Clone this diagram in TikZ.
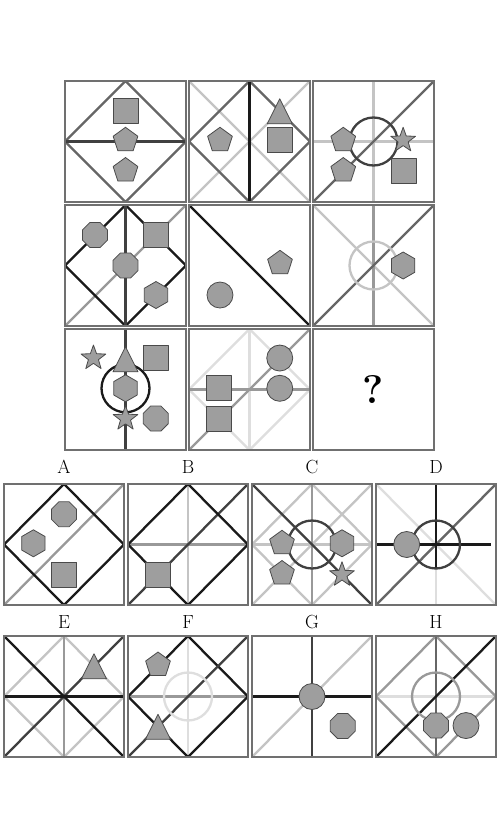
\documentclass[tikz,border=0pt]{standalone}
\usepackage{tikz}
\definecolor{cA}{HTML}{DEDEDE}
\definecolor{cB}{HTML}{C4C4C4}
\definecolor{cC}{HTML}{999999}
\definecolor{cD}{HTML}{666666}
\definecolor{cE}{HTML}{404040}
\definecolor{cF}{HTML}{1A1A1A}
\definecolor{shpfill}{HTML}{9E9E9E}
\definecolor{shpline}{HTML}{4A4A4A}
\definecolor{framec}{HTML}{707070}
\tikzset{
  ln/.style={line width=2.3pt},
  lA/.style={ln,draw=cA}, lB/.style={ln,draw=cB}, lC/.style={ln,draw=cC},
  lD/.style={ln,draw=cD}, lE/.style={ln,draw=cE}, lF/.style={ln,draw=cF},
  frame/.style={draw=framec,line width=1.1pt},
  shp/.style={fill=shpfill,draw=shpline,line width=0.8pt,line join=round},
  lbl/.style={font=\fontsize{19}{19}\selectfont,inner sep=0pt},
  psq/.pic={\draw[shp] (-12.5pt,-12.5pt) rectangle (12.5pt,12.5pt);},
  ppent/.pic={\draw[shp] (90:13pt)--(162:13pt)--(234:13pt)--(306:13pt)--(18:13pt)--cycle;},
  phex/.pic={\draw[shp] (90:13.5pt)--(150:13.5pt)--(210:13.5pt)--(270:13.5pt)--(330:13.5pt)--(30:13.5pt)--cycle;},
  poct/.pic={\draw[shp] (22.5:13.5pt)--(67.5:13.5pt)--(112.5:13.5pt)--(157.5:13.5pt)--(202.5:13.5pt)--(247.5:13.5pt)--(292.5:13.5pt)--(337.5:13.5pt)--cycle;},
  ptri/.pic={\draw[shp] (0pt,12.5pt)--(-12.5pt,-12.5pt)--(12.5pt,-12.5pt)--cycle;},
  pstar/.pic={\draw[shp] (90:13pt)--(126:5.3pt)--(162:13pt)--(198:5.3pt)--(234:13pt)--(270:5.3pt)--(306:13pt)--(342:5.3pt)--(18:13pt)--(54:5.3pt)--cycle;},
  pcirc/.pic={\draw[shp] (0,0) circle[radius=13pt];},
}
\newcommand\mydiam[1]{\draw[#1] (0.5,0)--(1,0.5)--(0.5,1)--(0,0.5)--cycle;}
\newcommand\myvert[1]{\draw[#1] (0.5,0)--(0.5,1);}
\newcommand\myhorz[1]{\draw[#1] (0,0.5)--(1,0.5);}
\newcommand\mydup[1]{\draw[#1] (0,1)--(1,0);}
\newcommand\myddown[1]{\draw[#1] (0,0)--(1,1);}
\newcommand\mybigc[1]{\draw[#1] (0.5,0.5) circle[radius=24pt];}
\begin{document}
\begin{tikzpicture}[x=1pt,y=-1pt]
\useasboundingbox[fill=white] (0,0) rectangle (500,836);

% ---------- Row 1 ----------
\begin{scope}[shift={(65,81)},x=121pt,y=-121pt]
  \begin{scope}\clip (0,0) rectangle (1,1);
    \mydiam{lD} \myhorz{lE}
  \end{scope}
  \draw[frame] (0,0) rectangle (1,1);
  \pic at (0.5,0.25) {psq};
  \pic at (0.5,0.49) {ppent};
  \pic at (0.5,0.74) {ppent};
\end{scope}

\begin{scope}[shift={(189,81)},x=121pt,y=-121pt]
  \begin{scope}\clip (0,0) rectangle (1,1);
    \myddown{lB} \mydup{lB} \mydiam{lD} \myvert{lF}
  \end{scope}
  \draw[frame] (0,0) rectangle (1,1);
  \pic at (0.256,0.49) {ppent};
  \pic at (0.75,0.25) {ptri};
  \pic at (0.75,0.49) {psq};
\end{scope}

\begin{scope}[shift={(313,81)},x=121pt,y=-121pt]
  \begin{scope}\clip (0,0) rectangle (1,1);
    \myvert{lB} \myhorz{lB} \mydup{lD}
  \end{scope}
  \mybigc{lE}
  \draw[frame] (0,0) rectangle (1,1);
  \pic at (0.25,0.49) {ppent};
  \pic at (0.25,0.74) {ppent};
  \pic at (0.745,0.49) {pstar};
  \pic at (0.75,0.745) {psq};
\end{scope}

% ---------- Row 2 ----------
\begin{scope}[shift={(65,205)},x=121pt,y=-121pt]
  \begin{scope}\clip (0,0) rectangle (1,1);
    \mydup{lC} \mydiam{lF} \myvert{lE}
  \end{scope}
  \draw[frame] (0,0) rectangle (1,1);
  \pic at (0.248,0.248) {poct};
  \pic at (0.75,0.248) {psq};
  \pic at (0.5,0.5) {poct};
  \pic at (0.752,0.744) {phex};
\end{scope}

\begin{scope}[shift={(189,205)},x=121pt,y=-121pt]
  \begin{scope}\clip (0,0) rectangle (1,1);
    \myddown{lF}
  \end{scope}
  \draw[frame] (0,0) rectangle (1,1);
  \pic at (0.752,0.482) {ppent};
  \pic at (0.256,0.744) {pcirc};
\end{scope}

\begin{scope}[shift={(313,205)},x=121pt,y=-121pt]
  \begin{scope}\clip (0,0) rectangle (1,1);
    \myddown{lB} \myvert{lC} \mydup{lD}
  \end{scope}
  \mybigc{lB}
  \draw[frame] (0,0) rectangle (1,1);
  \pic at (0.745,0.5) {phex};
\end{scope}

% ---------- Row 3 ----------
\begin{scope}[shift={(65,329)},x=121pt,y=-121pt]
  \begin{scope}\clip (0,0) rectangle (1,1);
    \myvert{lE}
  \end{scope}
  \draw[lF] (0.5,0.49) circle[radius=24pt];
  \draw[frame] (0,0) rectangle (1,1);
  \pic at (0.235,0.24) {pstar};
  \pic at (0.5,0.25) {ptri};
  \pic at (0.75,0.24) {psq};
  \pic at (0.5,0.49) {phex};
  \pic at (0.5,0.74) {pstar};
  \pic at (0.75,0.74) {poct};
\end{scope}

\begin{scope}[shift={(189,329)},x=121pt,y=-121pt]
  \begin{scope}\clip (0,0) rectangle (1,1);
    \mydiam{lA} \myvert{lA} \myhorz{lC} \mydup{lC}
  \end{scope}
  \draw[frame] (0,0) rectangle (1,1);
  \pic at (0.75,0.24) {pcirc};
  \pic at (0.75,0.49) {pcirc};
  \pic at (0.25,0.49) {psq};
  \pic at (0.25,0.74) {psq};
\end{scope}

\begin{scope}[shift={(313,329)},x=121pt,y=-121pt]
  \draw[frame] (0,0) rectangle (1,1);
  \node[font=\fontsize{40}{40}\selectfont\bfseries,inner sep=0pt] (qm) at (0.5,0.5) {?};
\end{scope}

% ---------- Labels ----------
\node[lbl] (labA) at (64,467) {A};
\node[lbl] (labB) at (188,467) {B};
\node[lbl] (labC) at (312,467) {C};
\node[lbl] (labD) at (436,467) {D};
\node[lbl] (labE) at (64,622) {E};
\node[lbl] (labF) at (188,622) {F};
\node[lbl] (labG) at (312,622) {G};
\node[lbl] (labH) at (436,622) {H};

% ---------- Options row 1 ----------
\begin{scope}[shift={(4,484)},x=120pt,y=-121pt]
  \begin{scope}\clip (0,0) rectangle (1,1);
    \mydup{lC} \mydiam{lF}
  \end{scope}
  \draw[frame] (0,0) rectangle (1,1);
  \pic at (0.5,0.25) {poct};
  \pic at (0.245,0.49) {phex};
  \pic at (0.5,0.75) {psq};
\end{scope}

\begin{scope}[shift={(128,484)},x=120pt,y=-121pt]
  \begin{scope}\clip (0,0) rectangle (1,1);
    \myvert{lB} \myhorz{lC} \mydup{lE} \mydiam{lF}
  \end{scope}
  \draw[frame] (0,0) rectangle (1,1);
  \pic at (0.25,0.75) {psq};
\end{scope}

\begin{scope}[shift={(252,484)},x=120pt,y=-121pt]
  \begin{scope}\clip (0,0) rectangle (1,1);
    \mydiam{lB} \myhorz{lB} \mydup{lB} \myvert{lC} \myddown{lE}
  \end{scope}
  \mybigc{lE}
  \draw[frame] (0,0) rectangle (1,1);
  \pic at (0.25,0.49) {ppent};
  \pic at (0.25,0.74) {ppent};
  \pic at (0.75,0.49) {phex};
  \pic at (0.75,0.75) {pstar};
\end{scope}

\begin{scope}[shift={(376,484)},x=120pt,y=-121pt]
  \begin{scope}\clip (0,0) rectangle (1,1);
    \myddown{lA} \mydup{lA} \myvert{lA} \mydup{lD}
    \draw[lF] (0.5,0)--(0.5,0.7);
    \draw[lF] (0,0.5)--(0.96,0.5);
  \end{scope}
  \mybigc{lE}
  \draw[frame] (0,0) rectangle (1,1);
  \pic at (0.256,0.5) {pcirc};
\end{scope}

% ---------- Options row 2 ----------
\begin{scope}[shift={(4,636)},x=120pt,y=-121pt]
  \begin{scope}\clip (0,0) rectangle (1,1);
    \mydiam{lB} \myvert{lC} \mydup{lE} \myddown{lF} \myhorz{lF}
  \end{scope}
  \draw[frame] (0,0) rectangle (1,1);
  \pic at (0.75,0.25) {ptri};
\end{scope}

\begin{scope}[shift={(128,636)},x=120pt,y=-121pt]
  \begin{scope}\clip (0,0) rectangle (1,1);
    \myvert{lA} \myhorz{lC} \mydiam{lF} \mydup{lE}
  \end{scope}
  \mybigc{lA}
  \draw[frame] (0,0) rectangle (1,1);
  \pic at (0.25,0.24) {ppent};
  \pic at (0.25,0.75) {ptri};
\end{scope}

\begin{scope}[shift={(252,636)},x=120pt,y=-121pt]
  \begin{scope}\clip (0,0) rectangle (1,1);
    \mydup{lB} \myhorz{lF} \myvert{lE}
  \end{scope}
  \draw[frame] (0,0) rectangle (1,1);
  \pic at (0.5,0.5) {pcirc};
  \pic at (0.756,0.744) {poct};
\end{scope}

\begin{scope}[shift={(376,636)},x=120pt,y=-121pt]
  \begin{scope}\clip (0,0) rectangle (1,1);
    \myhorz{lA} \mydiam{lC} \myvert{lD} \mydup{lF}
  \end{scope}
  \mybigc{lC}
  \draw[frame] (0,0) rectangle (1,1);
  \pic at (0.5,0.74) {poct};
  \pic at (0.75,0.74) {pcirc};
\end{scope}
\end{tikzpicture}
\end{document}
